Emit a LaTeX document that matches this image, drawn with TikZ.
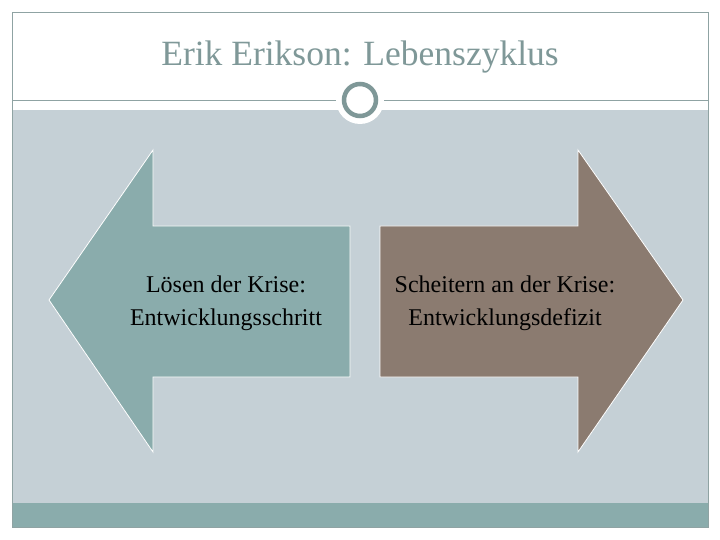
\documentclass[tikz,border=0pt]{standalone}
\usepackage{fontspec}
\setmainfont{Liberation Serif}
\definecolor{bgblue}{HTML}{C5D0D6}
\definecolor{teal}{HTML}{8AACAC}
\definecolor{taupe}{HTML}{8B7B70}
\definecolor{titlecol}{HTML}{7F9898}
\definecolor{framecol}{HTML}{8FA3A3}
\begin{document}
\begin{tikzpicture}[x=1pt,y=-1pt,
  arrowshape/.style={draw=white,line width=0.8pt},
  lbl/.style={align=center,font=\fontsize{24}{33}\selectfont,text=black}]
\useasboundingbox (0,0) rectangle (720,540);
\fill[white] (0,0) rectangle (720,540);
% gray content area
\fill[bgblue] (12,110) rectangle (708,503);
% bottom bar
\fill[teal] (12,503) rectangle (708,527);
% frame
\draw[framecol,line width=0.8pt] (12,12) rectangle (708,527);
% header line
\draw[framecol,line width=0.8pt] (12,100) -- (708,100);
% title
\node[text=titlecol,font=\fontsize{35.5}{40}\selectfont] (title) at (360,57) {Erik Erikson: Lebenszyklus};
% circle ornament
\fill[white] (360,100) circle (24);
\draw[titlecol,line width=4.5pt] (360,100) circle (16);
% left arrow
\draw[arrowshape,fill=teal] (49,300) -- (153,150) -- (153,226) -- (350,226) -- (350,377) -- (153,377) -- (153,452) -- cycle;
% right arrow
\draw[arrowshape,fill=taupe] (683,300) -- (578,150) -- (578,226) -- (380,226) -- (380,377) -- (578,377) -- (578,452) -- cycle;
\node[lbl] (left) at (226,303) {Lösen der Krise:\\Entwicklungsschritt};
\node[lbl] (right) at (505,303) {Scheitern an der Krise:\\Entwicklungsdefizit};
\end{tikzpicture}
\end{document}
